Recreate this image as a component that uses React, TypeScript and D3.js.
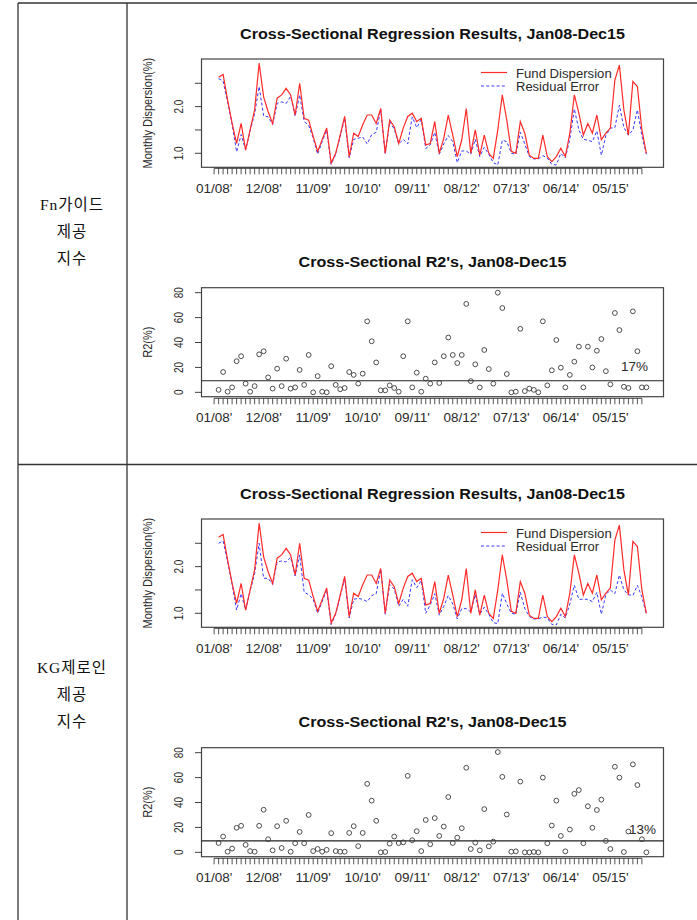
import React from "react";
import * as d3 from "d3";

// ---------- data ----------
const tickLabels = ["01/08'", "12/08'", "11/09'", "10/10'", "09/11'", "08/12'", "07/13'", "06/14'", "05/15'"];
const tickLabelIdx = [0, 11, 22, 33, 44, 55, 66, 77, 88];

const fundDispersion = [
  2.63, 2.69, 2.14, 1.64, 1.21, 1.64, 1.07, 1.5, 1.93, 2.93,
  2.21, 1.89, 1.64, 2.18, 2.25, 2.39, 2.25, 1.82, 2.5, 1.75,
  1.71, 1.36, 1.04, 1.29, 1.54, 0.79, 1.0, 1.39, 1.79, 0.93,
  1.43, 1.36, 1.61, 1.82, 1.82, 1.64, 1.96, 1.0, 1.71, 1.57,
  1.21, 1.54, 1.79, 1.86, 1.68, 1.75, 1.18, 1.21, 1.68, 1.0,
  1.32, 1.82, 1.39, 0.93, 1.29, 1.96, 1.0, 1.5, 0.96, 1.39,
  1.0, 0.89, 1.5, 2.25, 1.71, 1.04, 1.0, 1.68, 1.43, 0.96,
  0.89, 0.89, 1.39, 0.93, 0.82, 0.93, 1.11, 0.93, 1.43, 2.25,
  1.86, 1.39, 1.64, 1.43, 1.82, 1.29, 1.43, 1.54, 2.57, 2.89,
  1.93, 1.39, 2.54, 2.43, 1.5, 1.0,
];

const fnResidual = [
  2.6, 2.55, 2.1, 1.62, 1.03, 1.4, 1.07, 1.48, 1.85, 2.43,
  1.8, 1.78, 1.62, 2.07, 2.1, 2.07, 2.22, 1.8, 2.25, 1.68,
  1.6, 1.33, 0.98, 1.25, 1.5, 0.76, 0.98, 1.36, 1.75, 0.9,
  1.3, 1.32, 1.35, 1.2, 1.4, 1.45, 1.94, 0.98, 1.68, 1.52,
  1.2, 1.3, 1.2, 1.78, 1.55, 1.72, 1.1, 1.18, 1.45, 0.98,
  1.2, 1.38, 1.25, 0.8, 1.05, 1.05, 0.98, 1.3, 0.93, 1.13,
  0.98, 0.8, 0.75, 1.28, 1.25, 1.0, 0.98, 1.45, 1.2, 0.93,
  0.88, 0.88, 0.95, 0.9, 0.76, 0.75, 1.0, 0.9, 1.3, 1.95,
  1.5, 1.3, 1.28, 1.25, 1.48, 0.96, 1.38, 1.54, 1.55, 2.03,
  1.55, 1.39, 1.5, 1.93, 1.38, 0.98,
];

const kgResidual = [
  2.5, 2.55, 2.1, 1.62, 1.07, 1.42, 1.07, 1.48, 1.85, 2.5,
  1.75, 1.75, 1.62, 2.1, 2.12, 2.1, 2.2, 1.8, 2.25, 1.45,
  1.4, 1.3, 1.0, 1.25, 1.5, 0.76, 0.98, 1.36, 1.75, 0.9,
  1.3, 1.32, 1.3, 1.25, 1.38, 1.42, 1.94, 0.98, 1.62, 1.52,
  1.15, 1.3, 1.15, 1.72, 1.55, 1.7, 1.0, 1.18, 1.42, 0.96,
  1.15, 1.38, 1.2, 0.88, 1.1, 1.1, 1.03, 1.4, 0.98, 1.13,
  0.98, 0.8, 0.78, 1.43, 1.2, 1.0, 0.98, 1.45, 1.1, 0.93,
  0.88, 0.88, 0.92, 0.9, 0.76, 0.75, 0.98, 0.9, 1.2, 1.6,
  1.3, 1.3, 1.3, 1.25, 1.45, 0.98, 1.4, 1.5, 1.42, 1.82,
  1.5, 1.4, 1.38, 1.6, 1.35, 0.98,
];

const fnR2 = [
  2, 16.3, 0.5, 4, 25, 29, 7, 0.5, 5, 30.5,
  33, 12, 3, 19, 5, 27, 3, 4, 18, 6,
  30, 0, 13, 0.5, 0, 21, 6, 2.5, 3.5, 16.3,
  14, 7, 15, 57, 41, 24, 1.6, 1.6, 5.6, 3.5,
  0.5, 29, 57, 4, 15.8, 0.5, 11, 7, 24, 7.5,
  29, 44, 30, 23.5, 30, 71, 9, 22.5, 4, 34,
  18.7, 7, 80, 67.7, 14.7, 0, 0.5, 51, 1, 3,
  2, 0, 57, 5.6, 17.7, 42, 19.8, 4, 14, 24.6,
  36.7, 4, 36.7, 20, 33.4, 42.8, 17, 6.4, 63.7, 50,
  4.5, 3.5, 65, 33, 4, 4,
];

const kgR2 = [
  7.5, 12.7, 0.5, 3, 19.7, 21.3, 6, 1, 0.5, 21.3,
  34.2, 10.5, 1.6, 21, 3.5, 25.3, 0.5, 7.3, 16.4, 7.3,
  30, 1, 2.7, 0.5, 2, 15.4, 1, 0.5, 0.5, 15.6,
  21, 5, 15.6, 55, 41.5, 25.3, 0, 0.3, 7, 12.7,
  7.5, 8, 61.4, 9.7, 17, 1, 26, 6.5, 27.5, 13.2,
  20.7, 44.4, 7.5, 11.8, 19.4, 67.9, 2.7, 7.8, 1.6, 34.7,
  4.8, 8.6, 80.5, 60.6, 30.4, 0.5, 0.8, 56.8, 0, 0,
  0.3, 0, 60, 7.3, 21.5, 41.5, 13.2, 0.8, 18.3, 47,
  50, 7.3, 37, 19.7, 34, 42.3, 9.2, 2.7, 68.7, 60,
  0.3, 16.7, 70.6, 54, 10.5, 0,
];

const fnR2Line = 9.3;
const kgR2Line = 9.2;
const fnR2Note = "17%";
const kgR2Note = "13%";

const lineTitle = "Cross-Sectional Regression Results, Jan08-Dec15";
const scatterTitle = "Cross-Sectional R2's, Jan08-Dec15";
const lineYTicks = [1.0, 1.5, 2.0, 2.5];
const lineYLabels = ["1.0", "", "2.0", ""];
const r2YTicks = [0, 20, 40, 60, 80];

// ---------- layout ----------
const W = 697;
const H = 920;
const PL = 201.5;
const PR = 663.5;
const FONT = "'Liberation Sans', Arial, Helvetica, sans-serif";
const INK = "#2a2a2a";
const RED = "#ff2a2a";
const BLUE = "#3a3aff";

const x = d3.scaleLinear().domain([-3.8, 98.8]).range([PL, PR]);
const tickIdx = d3.range(96);

function YLabel({ px, py, text, size, sx }: { px: number; py: number; text: string; size: number; sx: number }) {
  return (
    <text
      transform={`translate(${px},${py}) rotate(-90) scale(1,${sx})`}
      textAnchor="middle"
      fontSize={size}
      fontFamily={FONT}
      fill={INK}
    >
      {text}
    </text>
  );
}

function XAxis({ y0, labelY }: { y0: number; labelY: number }) {
  const xs = tickIdx.map((i) => x(i - 1));
  return (
    <g>
      <line x1={xs[0]} x2={xs[xs.length - 1]} y1={y0} y2={y0} stroke={INK} strokeWidth={0.9} />
      {xs.map((px, i) => (
        <line key={i} x1={px} x2={px} y1={y0} y2={y0 + 6} stroke={INK} strokeWidth={0.8} />
      ))}
      {tickLabelIdx.map((ti, k) => (
        <text key={k} x={x(ti - 1)} y={labelY} textAnchor="middle" fontSize={13.5} fontFamily={FONT} fill={INK}>
          {tickLabels[k]}
        </text>
      ))}
    </g>
  );
}

function LinePanel({ dy, resid }: { dy: number; resid: number[] }) {
  const top = 59 + dy;
  const bottom = 167.3 + dy;
  const y = d3.scaleLinear().domain([0.7, 3.02]).range([bottom, top]);
  const line = d3
    .line<number>()
    .x((_, i) => x(i))
    .y((d) => y(d));
  return (
    <g>
      <text
        x={(PL + PR) / 2}
        y={38.5 + dy}
        textAnchor="middle"
        fontSize={14}
        fontWeight="bold"
        fontFamily={FONT}
        fill="#111"
        textLength={385}
        lengthAdjust="spacingAndGlyphs"
      >
        {lineTitle}
      </text>
      <path d={line(resid) || ""} fill="none" stroke={BLUE} strokeWidth={1} strokeDasharray="3,2.2" />
      <path d={line(fundDispersion) || ""} fill="none" stroke={RED} strokeWidth={1.2} />
      <rect x={PL} y={top} width={PR - PL} height={bottom - top} fill="none" stroke="#444" strokeWidth={1.2} />
      {lineYTicks.map((t, k) => (
        <g key={k}>
          <line x1={PL - 6.5} x2={PL} y1={y(t)} y2={y(t)} stroke={INK} strokeWidth={0.9} />
          {lineYLabels[k] && <YLabel px={183} py={y(t)} text={lineYLabels[k]} size={10} sx={1.3} />}
        </g>
      ))}
      <YLabel px={151.5} py={(top + bottom) / 2} text="Monthly Dispersion(%)" size={11} sx={1.15} />
      <line x1={481} x2={507} y1={72.5 + dy} y2={72.5 + dy} stroke={RED} strokeWidth={1.2} />
      <line x1={481} x2={505} y1={86 + dy} y2={86 + dy} stroke={BLUE} strokeWidth={1} strokeDasharray="3,2.2" />
      <text x={516} y={77.5 + dy} fontSize={12} fontFamily={FONT} fill={INK} textLength={95.7} lengthAdjust="spacingAndGlyphs">
        Fund Dispersion
      </text>
      <text x={516} y={90.5 + dy} fontSize={12} fontFamily={FONT} fill={INK} textLength={83} lengthAdjust="spacingAndGlyphs">
        Residual Error
      </text>
      <XAxis y0={168.3 + dy} labelY={193 + dy} />
    </g>
  );
}

function ScatterPanel({ dy, vals, hline, note, noteX, noteY }: { dy: number; vals: number[]; hline: number; note: string; noteX: number; noteY: number }) {
  const top = 287.7 + dy;
  const bottom = 396.7 + dy;
  const y = d3.scaleLinear().domain([-3.5, 84]).range([bottom, top]);
  return (
    <g>
      <text
        x={(PL + PR) / 2}
        y={266.7 + dy}
        textAnchor="middle"
        fontSize={14}
        fontWeight="bold"
        fontFamily={FONT}
        fill="#111"
        textLength={268}
        lengthAdjust="spacingAndGlyphs"
      >
        {scatterTitle}
      </text>
      <rect x={PL} y={top} width={PR - PL} height={bottom - top} fill="none" stroke="#444" strokeWidth={1.2} />
      <line x1={PL} x2={PR} y1={y(hline)} y2={y(hline)} stroke="#222" strokeWidth={1.1} />
      {vals.map((v, i) => (
        <circle key={i} cx={x(i)} cy={y(v)} r={2.4} fill="none" stroke="#3a3a3a" strokeWidth={0.9} />
      ))}
      {r2YTicks.map((t, k) => (
        <g key={k}>
          <line x1={PL - 6.5} x2={PL} y1={y(t)} y2={y(t)} stroke={INK} strokeWidth={0.9} />
          <YLabel px={183} py={y(t)} text={String(t)} size={10} sx={1.3} />
        </g>
      ))}
      <YLabel px={151.5} py={(top + bottom) / 2} text="R2(%)" size={11} sx={1.15} />
      <text x={noteX} y={noteY} fontSize={12} fontFamily={FONT} fill={INK} textLength={27} lengthAdjust="spacingAndGlyphs">
        {note}
      </text>
      <XAxis y0={398.3 + dy} labelY={422 + dy} />
    </g>
  );
}

function SideLabel({ lines, y0 }: { lines: string[]; y0: number }) {
  return (
    <g>
      {lines.map((s, i) => (
        <text
          key={i}
          x={72}
          y={y0 + i * 27}
          textAnchor="middle"
          fontSize={15.5}
          fontFamily="'Liberation Serif', 'Noto Sans CJK KR', serif"
          fill="#111"
          letterSpacing={1}
        >
          {s}
        </text>
      ))}
    </g>
  );
}

export default function App() {
  return (
    <svg width={W} height={H} style={{ position: "absolute", left: 0, top: 0, background: "#fff" }}>
      <rect x={0} y={0} width={W} height={H} fill="#fff" />
      <line x1={18} x2={W} y1={3} y2={3} stroke="#333" strokeWidth={1.3} />
      <line x1={18} x2={W} y1={464.5} y2={464.5} stroke="#333" strokeWidth={1.3} />
      <line x1={18} x2={18} y1={3} y2={H} stroke="#333" strokeWidth={1.3} />
      <line x1={127} x2={127} y1={3} y2={H} stroke="#333" strokeWidth={1.3} />

      <SideLabel lines={["Fn가이드", "제공", "지수"]} y0={210} />
      <SideLabel lines={["KG제로인", "제공", "지수"]} y0={673} />

      <LinePanel dy={0} resid={fnResidual} />
      <ScatterPanel dy={0} vals={fnR2} hline={fnR2Line} note={fnR2Note} noteX={621} noteY={371} />
      <LinePanel dy={460} resid={kgResidual} />
      <ScatterPanel dy={460} vals={kgR2} hline={kgR2Line} note={kgR2Note} noteX={629} noteY={834} />
    </svg>
  );
}
